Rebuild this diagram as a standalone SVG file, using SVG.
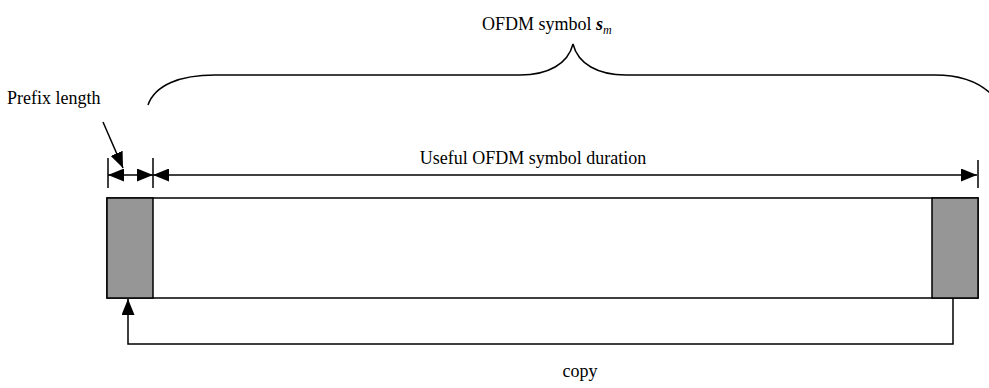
<svg xmlns="http://www.w3.org/2000/svg" width="989" height="388" viewBox="0 0 989 388">
<defs>
<style>
.ln{fill:none;stroke:#000;stroke-width:1.5}
.tx{font-family:"Liberation Serif","Times New Roman",serif;font-size:18px;fill:#000}
.gray{fill:#969696;stroke:#000;stroke-width:1.5}
.box{fill:#fff;stroke:#000;stroke-width:1.5}
</style>
<marker id="ah" viewBox="0 0 16 13" refX="16" refY="6.5" markerWidth="16" markerHeight="13" markerUnits="userSpaceOnUse" orient="auto-start-reverse">
<path d="M0,0 L16,6.5 L0,13 Z" fill="#000"/>
</marker>
</defs>
<rect width="989" height="388" fill="#fff"/>
<g id="symbol-box">
<rect class="box" x="107" y="198" width="871" height="100"/>
</g>
<g id="prefix-left">
<rect class="gray" x="107" y="198" width="46" height="100"/>
</g>
<g id="prefix-right">
<rect class="gray" x="932" y="198" width="46" height="100"/>
</g>
<g id="brace">
<path class="ln" d="M148,105 C155,85 180,75 215,75 L520,75 C548,75 568,64 573,44 C578,64 598,75 626,75 L935,75 C960,75 978,82 990,93"/>
<text class="tx" x="482" y="30">OFDM symbol <tspan font-weight="bold" font-style="italic">s</tspan><tspan font-style="italic" font-size="12" dy="4">m</tspan></text>
</g>
<g id="labels">
<text class="tx" x="7" y="104">Prefix length</text>
<text class="tx" x="533" y="164" text-anchor="middle">Useful OFDM symbol duration</text>
<text class="tx" x="580" y="377" text-anchor="middle">copy</text>
</g>
<g id="connectors">
<line class="ln" x1="108" y1="158" x2="108" y2="188"/>
<line class="ln" x1="153" y1="158" x2="153" y2="188"/>
<line class="ln" x1="978" y1="160" x2="978" y2="188"/>
<line class="ln" x1="108" y1="175" x2="153" y2="175" marker-start="url(#ah)" marker-end="url(#ah)"/>
<line class="ln" x1="153" y1="175" x2="977" y2="175" marker-start="url(#ah)" marker-end="url(#ah)"/>
<line class="ln" x1="103" y1="122" x2="123" y2="168" marker-end="url(#ah)"/>
<polyline class="ln" points="953,298 953,344 128,344 128,299" marker-end="url(#ah)"/>
</g>
</svg>
